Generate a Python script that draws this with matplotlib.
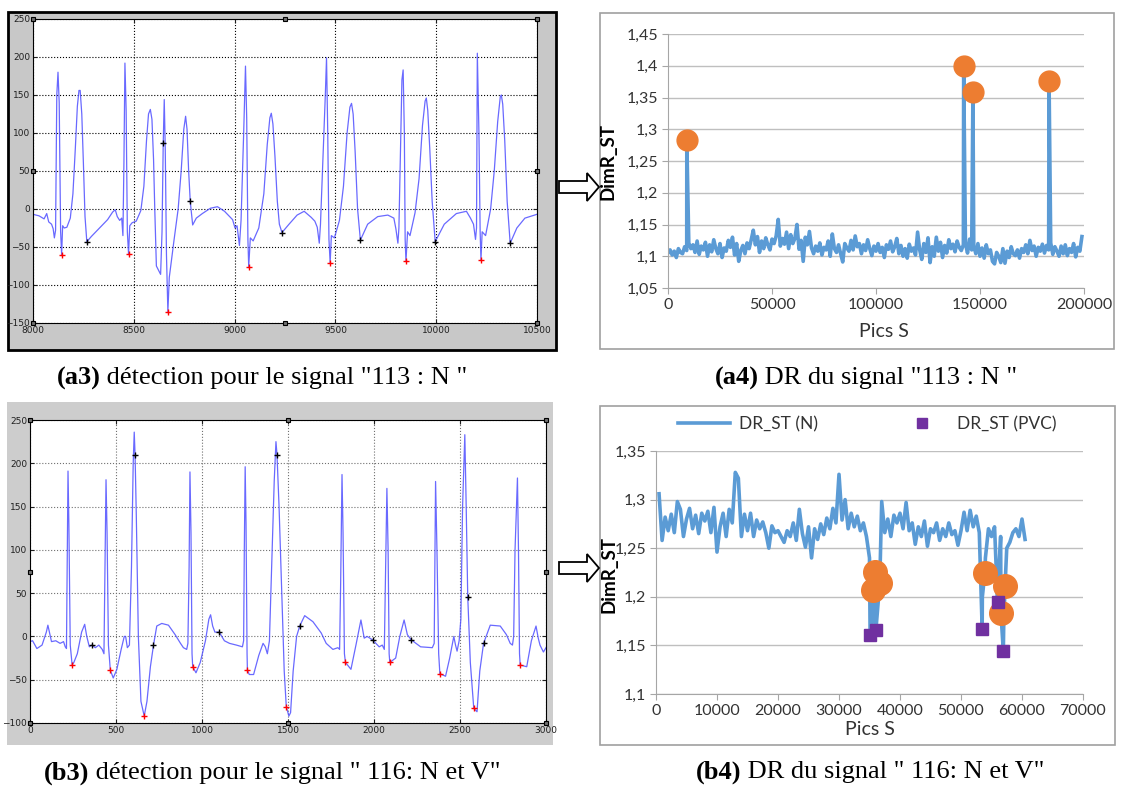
import numpy as np
import matplotlib.pyplot as plt
from matplotlib.patches import Rectangle, Polygon
from matplotlib.lines import Line2D

W, H = 1125, 795

# ---------------- (a3) ECG 113 : N  (sample, amplitude) ----------------
ecg113 = [(8000, -7), (8030, -9), (8055, -13), (8068, -6), (8078, -17), (8092, -20), (8100, -26),
          (8106, -38), (8112, -28), (8118, 150), (8124, 180), (8130, 140), (8137, -30), (8142, -60),
          (8147, -22), (8155, -25), (8168, -24), (8185, -12), (8198, 20), (8210, 80), (8220, 135),
          (8228, 156), (8234, 156), (8242, 125), (8250, 60), (8258, -10), (8267, -43), (8290, -36),
          (8330, -25), (8370, -14), (8395, -4), (8408, -1), (8418, -10), (8430, -15), (8440, -12),
          (8446, -35), (8451, 60), (8456, 192), (8462, 130), (8468, -30), (8474, -59), (8480, -22),
          (8492, -18), (8512, -16), (8535, -2), (8550, 30), (8563, 90), (8573, 125), (8582, 131),
          (8590, 118), (8598, 65), (8604, 0), (8612, -75), (8625, -82), (8633, -86), (8640, -30),
          (8646, 87), (8651, 144), (8656, 80), (8662, -60), (8669, -135), (8676, -90), (8700, -40),
          (8720, 0), (8735, 50), (8748, 105), (8757, 122), (8764, 105), (8772, 50), (8780, 10),
          (8792, -21), (8810, -12), (8840, -6), (8880, 1), (8915, 3), (8950, -3), (8975, -10),
          (8990, -14), (9002, -25), (9012, -22), (9024, -48), (9032, -15), (9045, 100), (9054, 188),
          (9060, 120), (9066, -40), (9070, -76), (9078, -38), (9092, -42), (9120, -25), (9145, 20),
          (9162, 85), (9175, 120), (9182, 126), (9190, 112), (9200, 70), (9212, 10), (9222, -20),
          (9235, -31), (9270, -20), (9310, -8), (9345, -3), (9380, -11), (9398, -16), (9410, -24),
          (9420, -45), (9426, -20), (9450, 150), (9456, 199), (9462, 100), (9468, -40), (9474, -71),
          (9480, -35), (9495, -38), (9520, -15), (9540, 30), (9558, 100), (9572, 134), (9580, 139),
          (9588, 125), (9598, 75), (9610, 0), (9624, -41), (9660, -20), (9710, -10), (9760, -8),
          (9790, -12), (9800, -26), (9810, -45), (9815, -25), (9830, 170), (9836, 183), (9842, 100),
          (9846, -40), (9850, -69), (9858, -30), (9870, -35), (9895, -5), (9915, 40), (9932, 110),
          (9945, 142), (9951, 146), (9958, 130), (9968, 80), (9980, 10), (9995, -43), (10040, -20),
          (10100, -6), (10150, -3), (10170, -12), (10185, -20), (10195, -40), (10200, -25),
          (10204, 205), (10212, 100), (10218, -30), (10222, -67), (10228, -30), (10245, -35),
          (10270, 0), (10288, 50), (10305, 115), (10318, 148), (10323, 150), (10330, 138),
          (10340, 90), (10352, 10), (10367, -45), (10400, -25), (10440, -12), (10500, -7)]
ecg113_red_x = [8142, 8474, 8669, 9070, 9474, 9850, 10222]
ecg113_red_y = [-60, -59, -135, -76, -71, -69, -67]
ecg113_blk_x = [8267, 8646, 8780, 9235, 9624, 9995, 10367]
ecg113_blk_y = [-43, 87, 10, -31, -41, -43, -45]

# ---------------- (b3) ECG 116 : N et V ----------------
ecg116_x = [0, 15, 40, 70, 95, 104, 115, 125, 150, 175, 195, 205, 212, 216, 221, 226, 234, 245,
            255, 275, 300, 318, 330, 345, 359, 380, 400, 420, 430, 436, 442, 448, 456, 467, 484,
            505, 530, 548, 556, 566, 578, 590, 600, 606, 611, 618, 630, 645, 664, 680, 700, 718,
            737, 766, 805, 844, 875, 892, 911, 918, 925, 930, 936, 942, 946, 965, 990, 1020,
            1040, 1050, 1062, 1075, 1100, 1130, 1160, 1200, 1235, 1242, 1246, 1251, 1256, 1262,
            1264, 1275, 1300, 1330, 1355, 1368, 1380, 1392, 1405, 1420, 1430, 1436, 1448, 1462,
            1478, 1490, 1505, 1515, 1530, 1550, 1568, 1597, 1645, 1693, 1722, 1761, 1790, 1800,
            1806, 1814, 1820, 1828, 1834, 1866, 1895, 1924, 1943, 1960, 1992, 2030, 2048, 2060,
            2066, 2075, 2082, 2088, 2092, 2126, 2150, 2175, 2194, 2217, 2271, 2339, 2350, 2358,
            2366, 2376, 2383, 2416, 2440, 2464, 2474, 2483, 2495, 2505, 2515, 2528, 2536, 2545,
            2560, 2580, 2599, 2615, 2637, 2676, 2734, 2770, 2792, 2805, 2812, 2820, 2834, 2840,
            2846, 2850, 2888, 2915, 2942, 2955, 2965, 2985, 3000]
ecg116_y = [-6, -5, -14, -10, 5, 13, 3, -6, -5, -8, -6, -12, -14, 80, 191, 130, -10, -33,
            -30, -20, 5, 14, 0, -12, -10, -13, -10, -15, -20, 80, 181, 120, -10, -39, -48,
            -38, -15, 0, 0, -13, -10, 80, 200, 236, 209, 140, 0, -75, -92, -75, -35, -10,
            12, 15, 13, 2, -8, -13, -15, -8, 80, 190, 120, -20, -35, -42, -30, -5,
            20, 25, 12, 5, 5, -5, -8, -10, -12, -5, 100, 196, 130, -20,
            -39, -44, -44, -22, -8, -12, -20, -5, 80, 180, 225, 210, 150, 60,
            -40, -81, -92, -88, -40, 0, 12, 24, 17, 4, -8, -15, -13, -15,
            60, 187, 120, -20, -30, -38, -10, 19, -2, 0, -4, -12, -10, -15,
            60, 171, 100, -20, -30, -25, 0, 19, 2, -4, -12, -13, -8, 179,
            100, -20, -43, -46, -25, 0, -10, -17, -5, 20, 150, 233, 150, 46,
            -30, -83, -87, -40, -8, 13, 12, 2, -8, -10, 0, 100, 183, 100,
            -20, -33, -35, -5, 12, -2, -10, -18, -13]
ecg116_red_x = [245, 467, 664, 946, 1264, 1490, 1834, 2092, 2383, 2580, 2850]
ecg116_red_y = [-33, -39, -92, -35, -39, -81, -30, -30, -43, -83, -33]
ecg116_blk_x = [359, 611, 718, 1100, 1436, 1568, 1992, 2217, 2545, 2637]
ecg116_blk_y = [-10, 209, -10, 5, 210, 12, -4, -4, 46, -8]

# ---------------- (a4) DR 113 ----------------
dr113 = [1.105, 1.110, 1.102, 1.108, 1.098, 1.112, 1.106, 1.104, 1.115, 1.109,
         1.121, 1.112, 1.118, 1.106, 1.124, 1.103, 1.116, 1.110, 1.122, 1.100,
         1.118, 1.107, 1.126, 1.112, 1.104, 1.120, 1.098, 1.113, 1.108, 1.125,
         1.114, 1.130, 1.102, 1.120, 1.092, 1.109, 1.117, 1.104, 1.121, 1.112,
         1.126, 1.141, 1.118, 1.131, 1.106, 1.124, 1.112, 1.129, 1.118, 1.110,
         1.127, 1.120, 1.132, 1.158, 1.116, 1.128, 1.119, 1.138, 1.112, 1.134,
         1.120, 1.128, 1.150, 1.111, 1.125, 1.092, 1.130, 1.118, 1.139, 1.113,
         1.104, 1.116, 1.108, 1.121, 1.102, 1.114, 1.110, 1.124, 1.100, 1.135,
         1.112, 1.106, 1.118, 1.104, 1.091, 1.120, 1.113, 1.108, 1.125, 1.110,
         1.132, 1.115, 1.120, 1.104, 1.118, 1.109, 1.126, 1.112, 1.101, 1.116,
         1.108, 1.120, 1.106, 1.114, 1.098, 1.118, 1.111, 1.124, 1.107, 1.115,
         1.128, 1.104, 1.117, 1.100, 1.112, 1.097, 1.119, 1.108, 1.113, 1.102,
         1.138, 1.110, 1.095, 1.120, 1.106, 1.129, 1.090, 1.115, 1.100, 1.130,
         1.108, 1.122, 1.098, 1.117, 1.105, 1.126, 1.112, 1.119, 1.107, 1.124,
         1.114, 1.109, 1.118, 1.120, 1.105, 1.127, 1.110, 1.116, 1.104, 1.120,
         1.100, 1.113, 1.097, 1.118, 1.104, 1.110, 1.092, 1.088, 1.106, 1.100,
         1.090, 1.112, 1.089, 1.108, 1.098, 1.115, 1.104, 1.101, 1.110, 1.097,
         1.112, 1.106, 1.118, 1.104, 1.125, 1.109, 1.116, 1.100, 1.114, 1.108,
         1.119, 1.105, 1.117, 1.110, 1.121, 1.103, 1.115, 1.108, 1.100, 1.116,
         1.104, 1.118, 1.101, 1.112, 1.106, 1.120, 1.099, 1.114, 1.108, 1.131]
dr113_x = np.arange(0, 200000, 1000)
pic113_x = [9040, 142150, 146600, 183200]
pic113_y = [1.283, 1.399, 1.358, 1.376]

# ---------------- (b4) DR 116 ----------------
dr116 = [1.306, 1.258, 1.282, 1.268, 1.285, 1.266, 1.298, 1.290, 1.262, 1.280,
         1.291, 1.270, 1.284, 1.265, 1.286, 1.278, 1.288, 1.266, 1.292, 1.246,
         1.272, 1.286, 1.262, 1.290, 1.276, 1.328, 1.322, 1.262, 1.285, 1.268,
         1.286, 1.262, 1.279, 1.270, 1.277, 1.266, 1.250, 1.273, 1.266, 1.268,
         1.262, 1.256, 1.268, 1.262, 1.276, 1.258, 1.290, 1.265, 1.251, 1.272,
         1.240, 1.270, 1.259, 1.275, 1.264, 1.281, 1.270, 1.291, 1.276, 1.326,
         1.279, 1.300, 1.270, 1.286, 1.272, 1.283, 1.268, 1.276, 1.262, 1.240,
         1.175, 1.190, 1.200, 1.298, 1.266, 1.280, 1.262, 1.284, 1.276, 1.286,
         1.270, 1.297, 1.268, 1.276, 1.254, 1.272, 1.262, 1.278, 1.252, 1.270,
         1.266, 1.276, 1.258, 1.270, 1.262, 1.276, 1.264, 1.268, 1.253, 1.268,
         1.287, 1.268, 1.289, 1.272, 1.283, 1.266, 1.200, 1.240, 1.270, 1.262,
         1.272, 1.200, 1.262, 1.170, 1.250, 1.256, 1.266, 1.270, 1.262, 1.280,
         1.259]
dr116_x = np.arange(500, 61000, 500)
n116_x = [35560, 35840, 36680, 53920, 56550, 57220]
n116_y = [1.207, 1.226, 1.214, 1.225, 1.183, 1.211]
pvc116_x = [35100, 36050, 53470, 55990, 56940]
pvc116_y = [1.161, 1.166, 1.167, 1.195, 1.144]

BLUE = '#5b9bd5'
ORANGE = '#ed7d31'
PURPLE = '#7030a0'
ECG = '#4f4fff'


def fbox(x0, y0, x1, y1):
    return [x0 / W, 1 - y1 / H, (x1 - x0) / W, (y1 - y0) / H]


def matlab_panel(fig, px, ex, ey, rx, ry, bx, by, xlim, ylim, xstep, grid_col, handle_y):
    ax = fig.add_axes(fbox(*px))
    ax.plot(ex, ey, color=ECG, lw=0.9, alpha=0.85)
    ax.plot(rx, ry, '+', color='red', ms=4, mew=1.0)
    ax.plot(bx, by, '+', color='black', ms=4, mew=1.0)
    ax.set_xlim(*xlim)
    ax.set_ylim(*ylim)
    ax.set_xticks(np.arange(xlim[0], xlim[1] + 1, xstep))
    ax.set_yticks(np.arange(ylim[0], ylim[1] + 1, 50))
    ax.grid(True, ls=':', color=grid_col, lw=0.8)
    ax.tick_params(direction='in', top=True, right=True, length=3, labelsize=6.5, pad=2,
                   colors='#202020')
    for s in ax.spines.values():
        s.set_linewidth(0.8)
    # figure edit handles
    xm = (xlim[0] + xlim[1]) / 2
    hx = [xlim[0], xm, xlim[1], xlim[0], xlim[1], xlim[0], xm, xlim[1]]
    hy = [ylim[1], ylim[1], ylim[1], handle_y, handle_y, ylim[0], ylim[0], ylim[0]]
    ax.plot(hx, hy, 's', ms=3.5, mfc='#707070', mec='black', mew=0.8, clip_on=False, zorder=5)
    return ax


def comma(v, pos):
    s = f'{v:.2f}'.rstrip('0').rstrip('.')
    return s.replace('.', ',')


def excel_axes(ax):
    for side in ['top', 'right']:
        ax.spines[side].set_visible(False)
    for side in ['left', 'bottom']:
        ax.spines[side].set_color('#a6a6a6')
    ax.grid(True, axis='y', color='#bfbfbf', lw=1)
    ax.set_axisbelow(True)
    ax.yaxis.set_major_formatter(plt.FuncFormatter(comma))
    ax.tick_params(direction='out', length=4, color='#a6a6a6', labelcolor='#333333',
                   labelsize=11.5, pad=3)
    for lab in ax.get_xticklabels() + ax.get_yticklabels():
        lab.set_family('Lato')


fig = plt.figure(figsize=(W / 100, H / 100), dpi=100)

# backgrounds (behind the axes)
bg = dict(transform=fig.transFigure, zorder=-10)
fig.add_artist(Rectangle((8 / W, 1 - 350 / H), 548 / W, 338 / H, facecolor='#c8c8c8',
                         edgecolor='black', lw=2, **bg))
fig.add_artist(Rectangle((7 / W, 1 - 745 / H), 546 / W, 343 / H, facecolor='#cdcdcd',
                         edgecolor='none', **bg))
fig.add_artist(Rectangle((600 / W, 1 - 349 / H), 514 / W, 336 / H, facecolor='white',
                         edgecolor='#a0a0a0', lw=1.2, **bg))
fig.add_artist(Rectangle((600 / W, 1 - 745 / H), 515 / W, 339 / H, facecolor='white',
                         edgecolor='#a0a0a0', lw=1.2, **bg))

# (a3)
ecg113_x, ecg113_y = zip(*ecg113)
matlab_panel(fig, (33, 19, 537, 323), ecg113_x, ecg113_y, ecg113_red_x, ecg113_red_y,
             ecg113_blk_x, ecg113_blk_y, (8000, 10500), (-150, 250), 500, 'black', 50)
# (b3)
matlab_panel(fig, (30, 420, 546, 723), ecg116_x, ecg116_y, ecg116_red_x, ecg116_red_y,
             ecg116_blk_x, ecg116_blk_y, (0, 3000), (-100, 250), 500, '#707070', 75)

# (a4)
ax = fig.add_axes(fbox(668, 34, 1084, 288))
lx = np.concatenate([dr113_x, pic113_x])
ly = np.concatenate([dr113, pic113_y])
order = np.argsort(lx, kind='stable')
ax.plot(lx[order], ly[order], color=BLUE, lw=2.6)
ax.plot(pic113_x, pic113_y, 'o', color=ORANGE, ms=15, zorder=4)
ax.set_xlim(0, 200000)
ax.set_ylim(1.05, 1.45)
ax.set_xticks(np.arange(0, 200001, 50000))
ax.set_yticks(np.linspace(1.05, 1.45, 9))
excel_axes(ax)
ax.set_ylabel('DimR_ST', fontsize=13.5, fontweight='bold', family='Lato')
ax.yaxis.set_label_coords(-0.123, 0.5)
ax.set_xlabel('Pics S', fontsize=14, family='Lato', color='#333333')
ax.xaxis.label.set_va('center')
ax.xaxis.set_label_coords(0.52, -0.173)

# (b4)
ax = fig.add_axes(fbox(656, 451, 1083, 694))
lx = np.concatenate([dr116_x, n116_x, pvc116_x])
ly = np.concatenate([dr116, n116_y, pvc116_y])
order = np.argsort(lx, kind='stable')
ax.plot(lx[order], ly[order], color=BLUE, lw=2.6)
ax.plot(n116_x, n116_y, 'o', color=ORANGE, ms=17, zorder=4)
ax.plot(pvc116_x, pvc116_y, 's', color=PURPLE, ms=9, zorder=5)
ax.set_xlim(0, 70000)
ax.set_ylim(1.1, 1.35)
ax.set_xticks(np.arange(0, 70001, 10000))
ax.set_yticks(np.linspace(1.1, 1.35, 6))
excel_axes(ax)
ax.set_ylabel('DimR_ST', fontsize=13.5, fontweight='bold', family='Lato')
ax.yaxis.set_label_coords(-0.091, 0.49)
ax.set_xlabel('Pics S', fontsize=14, family='Lato', color='#333333')
ax.xaxis.label.set_va('center')
ax.xaxis.set_label_coords(0.5, -0.148)
handles = [Line2D([], [], color=BLUE, lw=2.6),
           Line2D([], [], ls='none', marker='s', color=PURPLE, ms=7)]
ax.legend(handles, ['DR_ST (N)', 'DR_ST (PVC)'], loc='center', ncol=2, frameon=False,
          bbox_to_anchor=(867 / W, 1 - 424 / H), bbox_transform=fig.transFigure,
          prop={'family': 'Lato', 'size': 12.5}, handlelength=3.0, handletextpad=0.5,
          columnspacing=4.5, labelcolor='#333333')

# arrows
for cy in [187, 568]:
    pts = [(559, cy - 6), (587, cy - 6), (587, cy - 14), (599, cy), (587, cy + 14),
           (587, cy + 6), (559, cy + 6)]
    pts = [(x / W, 1 - y / H) for x, y in pts]
    fig.add_artist(Polygon(pts, closed=True, transform=fig.transFigure, facecolor='white',
                           edgecolor='black', lw=1.3))

# captions
renderer = fig.canvas.get_renderer()
captions = [('(a3)', ' détection pour le signal "113 : N "', 262, 378),
            ('(a4)', ' DR du signal "113 : N "', 866, 378),
            ('(b3)', ' détection pour le signal " 116: N et V"', 272, 773),
            ('(b4)', ' DR du signal " 116: N et V"', 870, 772)]
for bold, rest, cx, cy in captions:
    t1 = fig.text(0, 1 - cy / H, bold, fontsize=19, fontweight='bold', family='Liberation Serif',
                  va='center')
    t2 = fig.text(0, 1 - cy / H, rest, fontsize=19, family='Liberation Serif', va='center')
    w1 = t1.get_window_extent(renderer).width
    w2 = t2.get_window_extent(renderer).width
    x0 = cx - (w1 + w2) / 2
    t1.set_x(x0 / W)
    t2.set_x((x0 + w1) / W)

fig.savefig('out.png', dpi=100, facecolor='white')
